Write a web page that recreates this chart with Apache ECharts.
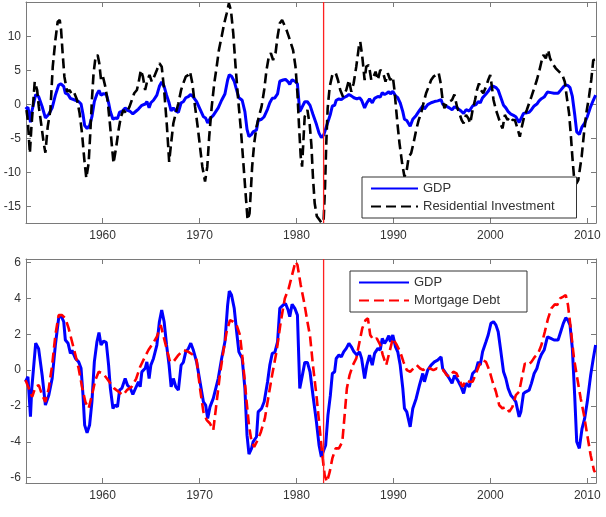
<!DOCTYPE html>
<html><head><meta charset="utf-8">
<script src="https://cdn.jsdelivr.net/npm/echarts@6/dist/echarts.min.js"></script>
<style>html,body{margin:0;padding:0;background:#fff}#c{width:606px;height:517px}</style>
</head><body><div id="c"></div>
<script>
// ---- tick labels ----
const xTicks = [1960, 1970, 1980, 1990, 2000, 2010];
const topYTicks = [-15, -10, -5, 0, 5, 10];
const bottomYTicks = [-6, -4, -2, 0, 2, 4, 6];
const breakYear = 1982.8;
const topRange = [-17.4, 15.1];
const bottomRange = [-6.3, 6.2];

// ---- GDP (same series in both panels) ----
const gdpYears = [1952.05,1952.3,1952.56,1952.7,1953.1,1953.4,1953.77,1954.1,1954.45,1954.8,1955.13,1955.47,1955.7,1955.99,1956.16,1956.44,1956.68,1956.85,1957.2,1957.53,1957.78,1957.98,1958.15,1958.4,1958.66,1958.9,1959.15,1959.42,1959.63,1959.84,1960.1,1960.38,1960.62,1960.8,1961.07,1961.3,1961.54,1961.75,1962.0,1962.33,1962.57,1962.85,1963.12,1963.47,1963.7,1963.88,1964.05,1964.4,1964.57,1964.8,1964.98,1965.25,1965.6,1965.86,1966.1,1966.35,1966.6,1966.86,1967.07,1967.3,1967.55,1967.82,1968.1,1968.33,1968.58,1968.85,1969.1,1969.36,1969.7,1970.05,1970.4,1970.63,1970.84,1971.08,1971.42,1971.6,1971.93,1972.28,1972.62,1972.9,1973.07,1973.3,1973.58,1973.83,1974.06,1974.4,1974.68,1974.9,1975.1,1975.37,1975.53,1975.88,1976.05,1976.4,1976.67,1977.02,1977.25,1977.5,1977.77,1978.05,1978.28,1978.62,1978.87,1979.14,1979.31,1979.55,1979.83,1980.1,1980.34,1980.58,1980.86,1981.13,1981.4,1981.7,1982.06,1982.33,1982.57,1982.81,1983.01,1983.25,1983.5,1983.7,1983.94,1984.1,1984.38,1984.63,1984.87,1985.14,1985.41,1985.66,1985.93,1986.23,1986.51,1986.72,1987.03,1987.26,1987.54,1987.82,1988.06,1988.4,1988.64,1988.85,1989.09,1989.32,1989.53,1989.7,1989.94,1990.22,1990.45,1990.7,1990.97,1991.14,1991.38,1991.73,1992.0,1992.35,1992.69,1993.03,1993.2,1993.54,1993.89,1994.23,1994.57,1994.92,1995.08,1995.43,1995.77,1996.05,1996.3,1996.63,1996.98,1997.24,1997.49,1997.83,1998.17,1998.52,1998.75,1998.96,1999.2,1999.55,1999.78,2000.06,2000.33,2000.58,2000.81,2001.09,2001.36,2001.6,2001.84,2002.12,2002.39,2002.63,2002.97,2003.15,2003.42,2003.66,2004.0,2004.24,2004.52,2004.8,2005.03,2005.27,2005.55,2005.89,2006.24,2006.57,2006.99,2007.26,2007.53,2007.78,2008.01,2008.22,2008.46,2008.7,2008.91,2009.18,2009.46,2009.73,2010.0,2010.35,2010.62,2010.86];
const gdpValues = [-0.65,-0.37,-2.6,-1.0,1.5,1.2,-0.3,-1.95,-1.4,-0.46,1.4,2.9,3.07,2.7,1.68,1.5,0.93,1.1,0.65,0.46,0.1,-1.4,-3.07,-3.5,-3.07,-1.77,0.46,1.58,2.1,1.4,1.62,1.55,0.28,-1.0,-2.14,-1.95,-2.05,-1.12,-1.0,-0.47,-0.84,-1.0,-1.36,-0.93,-0.65,-0.93,-0.1,0.1,0.46,-0.47,0.28,0.65,1.4,2.7,3.35,2.7,1.4,0.28,-0.93,-0.47,-0.93,-1.12,0.28,0.43,1.02,1.2,1.5,1.12,0.46,-0.65,-1.77,-1.95,-2.7,-2.05,-1.58,-1.49,-0.47,0.65,1.58,3.63,4.41,4.19,3.45,2.14,1.02,0.65,-1.02,-3.63,-4.69,-4.37,-4.0,-3.72,-2.33,-2.14,-1.77,-0.65,0.28,0.93,0.99,1.58,3.45,3.63,3.72,3.35,2.98,3.67,3.45,3.07,-1.02,-0.37,0.43,0.43,-0.1,-1.4,-2.89,-4.19,-4.84,-4.47,-4.19,-2.51,-1.4,-0.19,-0.09,0.65,0.84,0.74,1.02,1.21,1.49,1.3,1.02,0.84,1.02,0.65,-0.47,0.28,0.84,0.28,0.93,1.21,1.12,1.77,1.49,1.68,1.92,1.58,1.96,1.3,1.02,0.28,-1.02,-2.14,-2.33,-3.17,-2.14,-1.58,-0.84,-0.19,-0.65,0.0,0.28,0.46,0.56,0.74,0.09,-0.19,-0.47,-0.74,-0.3,-0.56,-0.93,-1.3,-0.74,-0.93,-0.19,0.0,0.46,0.28,1.02,1.58,1.96,2.61,2.7,2.51,2.14,1.02,-0.09,-0.47,-1.02,-1.4,-1.58,-1.77,-2.61,-2.33,-1.3,-1.21,-1.12,-0.74,-0.19,0.09,0.56,0.88,1.12,1.86,1.77,1.68,1.68,2.14,2.61,2.92,2.79,2.51,1.21,-1.4,-4.0,-4.37,-3.26,-2.7,-1.77,-0.28,0.65,1.4];

// ---- Residential Investment (top panel) ----
const resInvYears = [1952.15,1952.28,1952.5,1952.66,1952.84,1953.0,1953.25,1953.42,1953.66,1953.93,1954.1,1954.34,1954.62,1954.86,1955.13,1955.37,1955.58,1955.72,1955.88,1956.06,1956.34,1956.6,1956.85,1957.09,1957.37,1957.63,1957.88,1958.12,1958.32,1958.56,1958.73,1958.9,1959.07,1959.28,1959.49,1959.66,1959.84,1960.04,1960.28,1960.51,1960.72,1960.97,1961.13,1961.41,1961.65,1961.89,1962.16,1962.44,1962.78,1963.02,1963.26,1963.54,1963.7,1963.95,1964.16,1964.39,1964.63,1964.84,1965.08,1965.32,1965.6,1965.86,1966.1,1966.35,1966.63,1966.87,1967.07,1967.3,1967.55,1967.82,1968.1,1968.33,1968.58,1968.85,1969.02,1969.26,1969.54,1969.81,1970.05,1970.29,1970.57,1970.8,1971.0,1971.26,1971.52,1971.77,1972.0,1972.28,1972.55,1972.8,1973.03,1973.24,1973.48,1973.72,1973.99,1974.27,1974.5,1974.75,1974.96,1975.16,1975.3,1975.43,1975.64,1975.88,1976.12,1976.4,1976.67,1976.91,1977.15,1977.36,1977.59,1977.84,1978.05,1978.28,1978.52,1978.72,1978.97,1979.21,1979.41,1979.65,1979.9,1980.1,1980.27,1980.44,1980.58,1980.72,1980.85,1981.13,1981.37,1981.54,1981.7,1981.88,1982.1,1982.35,1982.6,1982.8,1982.95,1983.08,1983.22,1983.43,1983.7,1984.04,1984.28,1984.52,1984.8,1985.14,1985.41,1985.66,1985.9,1986.17,1986.44,1986.58,1986.79,1987.03,1987.2,1987.47,1987.72,1987.95,1988.16,1988.4,1988.64,1988.91,1989.19,1989.42,1989.67,1989.94,1990.11,1990.29,1990.45,1990.63,1990.9,1991.14,1991.38,1991.58,1991.83,1992.07,1992.35,1992.61,1992.86,1993.1,1993.37,1993.64,1993.89,1994.13,1994.4,1994.67,1994.85,1995.08,1995.26,1995.49,1995.77,1996.05,1996.29,1996.56,1996.8,1997.04,1997.24,1997.49,1997.73,1997.93,1998.17,1998.42,1998.62,1998.83,1999.03,1999.27,1999.55,1999.78,1999.99,2000.16,2000.33,2000.58,2000.81,2001.09,2001.26,2001.5,2001.77,2002.05,2002.29,2002.53,2002.8,2003.04,2003.25,2003.49,2003.76,2004.0,2004.24,2004.52,2004.8,2005.03,2005.27,2005.47,2005.72,2005.96,2006.16,2006.4,2006.75,2007.09,2007.43,2007.68,2007.88,2008.12,2008.29,2008.46,2008.63,2008.87,2009.07,2009.25,2009.42,2009.66,2009.9,2010.18,2010.41,2010.62,2010.8];
const resInvValues = [-0.78,-2.25,-7.15,-3.24,0.2,3.38,2.16,-0.29,-2.74,-5.68,-7.06,-3.24,-0.78,5.59,9.5,12.2,12.45,11.0,7.56,4.12,1.91,2.16,1.43,1.68,0.69,-1.26,-4.21,-8.13,-10.8,-8.62,-4.21,0.69,4.62,7.06,7.31,6.09,3.63,4.12,2.65,0.69,-2.25,-6.18,-8.62,-6.18,-3.72,-1.76,-0.78,-1.26,-0.29,0.69,1.68,2.16,3.15,5.1,4.12,2.16,3.63,4.37,3.38,4.12,5.1,6.09,5.59,2.16,-3.0,-8.4,-5.68,-2.74,-1.26,0.2,2.16,3.15,4.12,4.37,4.85,3.15,-0.29,-3.24,-6.18,-9.12,-11.3,-9.12,-4.7,-0.29,3.15,5.59,8.04,10.0,11.97,13.4,14.9,13.9,10.5,5.59,0.69,-3.72,-8.13,-13.0,-16.95,-16.0,-12.5,-9.12,-5.68,-3.24,-1.76,-0.29,2.16,5.1,7.06,7.56,6.57,7.56,10.0,11.97,12.45,12.2,11.0,10.0,9.76,8.04,5.59,1.68,-3.24,-7.65,-9.12,-5.19,-1.76,-0.78,-3.0,-5.9,-10.6,-14.5,-16.4,-16.9,-17.4,-17.1,-12.0,-5.5,-0.5,2.65,4.37,4.7,3.63,2.16,1.18,2.16,3.63,1.91,3.15,5.59,8.53,9.26,7.06,3.63,5.59,5.84,3.63,4.12,4.85,3.63,5.1,4.85,3.38,4.62,3.63,4.12,2.16,-0.78,-3.24,-5.68,-8.62,-10.6,-9.6,-7.65,-7.15,-5.68,-3.72,-2.25,-1.26,0.2,1.68,2.65,3.63,4.12,4.37,4.7,3.38,0.69,-0.53,0.2,0.44,0.69,1.5,-0.29,-1.26,-2.25,-2.74,-1.51,-2.0,-2.74,-0.78,0.69,2.16,3.15,2.16,1.68,2.65,3.63,4.37,2.65,0.69,-0.78,-1.76,-2.99,-3.48,-1.51,-2.25,-1.76,-2.25,-2.25,-3.48,-4.7,-3.24,-1.76,-0.78,0.2,1.18,2.41,3.63,4.85,6.32,7.31,6.82,8.04,6.82,6.09,5.35,4.85,4.37,3.38,1.18,-1.26,-4.21,-7.65,-10.6,-11.6,-11.1,-11.3,-7.65,-4.21,-1.26,1.18,3.63,6.57,6.6];

// ---- Mortgage Debt (bottom panel) ----
const mortYears = [1952.05,1952.39,1952.74,1953.08,1953.42,1953.77,1954.1,1954.45,1954.8,1955.13,1955.47,1955.82,1956.16,1956.5,1956.85,1957.2,1957.53,1957.88,1958.22,1958.56,1958.9,1959.25,1959.6,1960.04,1960.45,1960.8,1961.2,1961.65,1962.1,1962.5,1963.0,1963.47,1963.88,1964.29,1964.73,1965.19,1965.6,1966.0,1966.2,1966.6,1966.96,1967.3,1967.82,1968.33,1968.85,1969.36,1969.7,1970.05,1970.4,1970.74,1971.08,1971.42,1971.77,1972.1,1972.45,1972.8,1973.14,1973.48,1973.83,1974.17,1974.4,1974.61,1974.86,1975.1,1975.37,1975.64,1975.99,1976.33,1976.74,1977.08,1977.49,1977.94,1978.38,1978.8,1979.2,1979.55,1979.9,1980.1,1980.44,1980.78,1981.13,1981.4,1981.7,1982.06,1982.4,1982.67,1982.91,1983.15,1983.43,1983.7,1984.04,1984.38,1984.73,1984.97,1985.2,1985.48,1985.82,1986.17,1986.44,1986.79,1987.13,1987.37,1987.61,1987.95,1988.29,1988.64,1988.91,1989.26,1989.6,1989.94,1990.35,1990.7,1991.04,1991.38,1991.73,1992.07,1992.41,1992.76,1993.1,1993.44,1993.79,1994.13,1994.47,1994.81,1995.15,1995.49,1995.84,1996.18,1996.52,1996.8,1997.14,1997.49,1997.83,1998.17,1998.52,1998.86,1999.2,1999.55,1999.89,2000.23,2000.58,2000.92,2001.26,2001.6,2001.95,2002.28,2002.63,2002.97,2003.31,2003.56,2003.9,2004.24,2004.59,2004.93,2005.27,2005.62,2005.96,2006.3,2006.65,2006.91,2007.19,2007.53,2007.78,2008.01,2008.29,2008.63,2008.97,2009.32,2009.66,2010.0,2010.35,2010.69,2010.8];
const mortValues = [-0.56,-1.02,-1.49,-0.93,-0.84,-1.4,-1.77,-1.02,0.28,1.96,3.07,3.07,2.89,2.33,1.58,0.84,0.09,-0.93,-1.77,-2.14,-1.4,-0.56,-0.09,-0.19,-0.47,-0.74,-1.02,-1.21,-1.4,-1.12,-0.93,-0.47,0.19,0.65,1.12,1.49,1.86,2.51,2.6,1.21,0.46,0.46,0.84,1.12,1.02,0.84,0.56,-1.02,-2.33,-2.79,-2.98,-3.35,-1.77,-0.28,1.02,2.14,2.79,2.7,2.51,1.96,0.84,-0.28,-1.77,-3.07,-4.0,-4.28,-3.91,-3.45,-2.7,-1.58,-0.28,1.02,2.7,4.0,4.56,5.31,6.05,5.87,4.75,3.82,2.7,1.9,0.28,-1.4,-3.26,-4.75,-5.87,-6.24,-5.68,-4.93,-4.37,-4.37,-4.0,-2.51,-1.02,-0.28,0.28,0.65,1.4,2.33,2.79,2.89,1.96,1.68,1.77,1.4,0.84,0.28,1.02,1.77,1.4,1.02,0.46,0.0,-0.09,0.09,0.28,0.09,0.0,0.19,0.09,0.0,0.09,0.0,0.0,-0.28,-0.37,-0.09,-0.19,-0.56,-0.93,-0.56,-0.65,-0.65,-0.19,0.28,0.56,0.46,0.0,-0.65,-1.21,-1.96,-2.14,-2.05,-2.33,-2.05,-1.4,-1.21,-0.28,0.37,0.28,0.46,0.74,0.93,1.4,2.14,2.89,3.45,3.67,3.63,4.0,4.1,4.19,3.63,2.33,0.65,-0.47,-1.58,-2.51,-3.63,-4.75,-5.59,-5.7];

function zip(xs, ys) { return xs.map((x, i) => [x, ys[i]]); }

const axisColor = '#7a7a7a';
const textColor = '#333';
const breakColor = '#ff2020';
const fontFamily = '"Liberation Sans", Arial, sans-serif';

function xAxisDef(gridIndex, position, showLabel) {
  return {
    type: 'value', gridIndex, position, min: 1952.1, max: 2010.9,
    axisLine: { show: true, onZero: false, lineStyle: { color: axisColor, width: 1 } },
    axisTick: { show: true, inside: true, length: 5, customValues: xTicks, lineStyle: { color: axisColor } },
    axisLabel: { show: showLabel, customValues: xTicks, margin: 7, color: textColor, fontSize: 12, fontFamily,
                 formatter: v => String(v) },
    splitLine: { show: false }
  };
}
function yAxisDef(gridIndex, position, showLabel, range, ticks) {
  return {
    type: 'value', gridIndex, position, min: range[0], max: range[1],
    axisLine: { show: true, onZero: false, lineStyle: { color: axisColor, width: 1 } },
    axisTick: { show: true, inside: true, length: 5, customValues: ticks, lineStyle: { color: axisColor } },
    axisLabel: { show: showLabel, customValues: ticks, margin: 5, color: textColor, fontSize: 12, fontFamily,
                 formatter: v => String(v) },
    splitLine: { show: false }
  };
}

// vertical break marker: a 2-point series spanning the y range of its panel
function breakSeries(xIdx, yIdx, range) {
  return {
    name: 'break', type: 'line', xAxisIndex: xIdx, yAxisIndex: yIdx, silent: true,
    data: [[breakYear, range[0]], [breakYear, range[1]]],
    symbol: 'none', color: breakColor,
    lineStyle: { color: breakColor, width: 1.3, type: 'solid', opacity: 1 },
    itemStyle: { color: breakColor }, z: 4
  };
}

function legendDef(names, left, top, itemWidth, padRight) {
  return {
    data: names, orient: 'vertical', left, top,
    padding: [5, padRight, 5, 8], itemGap: 5, itemWidth, itemHeight: 14,
    borderColor: '#333', borderWidth: 1, backgroundColor: '#fff', borderRadius: 0,
    itemStyle: { opacity: 0 }, selectedMode: false,
    textStyle: { fontSize: 13, color: textColor, fontFamily }
  };
}

const option = {
  animation: false,
  backgroundColor: '#fff',
  grid: [
    { left: 26, right: 10, top: 2, height: 221 },
    { left: 26, right: 10, top: 259, height: 224 }
  ],
  xAxis: [
    xAxisDef(0, 'bottom', true), xAxisDef(0, 'top', false),
    xAxisDef(1, 'bottom', true), xAxisDef(1, 'top', false)
  ],
  yAxis: [
    yAxisDef(0, 'left', true, topRange, topYTicks), yAxisDef(0, 'right', false, topRange, topYTicks),
    yAxisDef(1, 'left', true, bottomRange, bottomYTicks), yAxisDef(1, 'right', false, bottomRange, bottomYTicks)
  ],
  legend: [
    legendDef(['GDP', 'Residential Investment'], 362, 177, 47, 22),
    legendDef(['GDP', 'Mortgage Debt'], 350, 271, 50, 27)
  ],
  series: [
    { name: 'GDP', type: 'line', xAxisIndex: 0, yAxisIndex: 0, data: zip(gdpYears, gdpValues),
      symbol: 'none', lineStyle: { color: '#0000ff', width: 3 }, itemStyle: { color: '#0000ff' }, z: 2 },
    { name: 'Residential Investment', type: 'line', xAxisIndex: 0, yAxisIndex: 0, data: zip(resInvYears, resInvValues),
      symbol: 'none', lineStyle: { color: '#000', width: 2.6, type: [10, 5] }, itemStyle: { color: '#000' }, z: 3 },
    breakSeries(0, 0, topRange),
    { name: 'GDP', type: 'line', xAxisIndex: 2, yAxisIndex: 2, data: zip(gdpYears, gdpValues),
      symbol: 'none', lineStyle: { color: '#0000ff', width: 3 }, itemStyle: { color: '#0000ff' }, z: 2 },
    { name: 'Mortgage Debt', type: 'line', xAxisIndex: 2, yAxisIndex: 2, data: zip(mortYears, mortValues),
      symbol: 'none', lineStyle: { color: '#ff0000', width: 2.6, type: [10, 5] }, itemStyle: { color: '#ff0000' }, z: 3 },
    breakSeries(2, 2, bottomRange)
  ]
};

const chart = echarts.init(document.getElementById('c'), null, { renderer: 'canvas' });
chart.setOption(option);
</script>
</body></html>
